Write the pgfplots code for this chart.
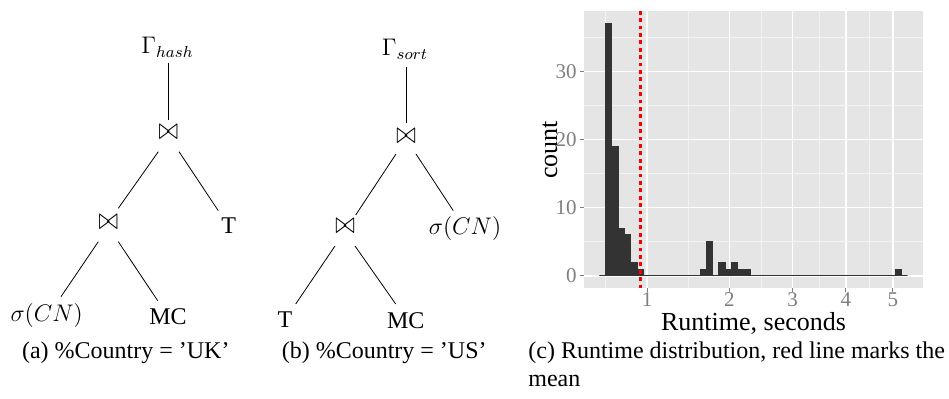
\documentclass[border=0pt]{standalone}
\usepackage{fontspec}
\setmainfont{Liberation Serif}
\usepackage{pgfplots}
\usepackage{pgfplotstable}
\pgfplotsset{compat=1.18}
\definecolor{panelbg}{HTML}{E5E5E5}
\definecolor{minorgrid}{HTML}{F2F2F2}
\definecolor{barcol}{HTML}{333333}
\definecolor{tickgrey}{HTML}{7F7F7F}

% histogram bins (x in sqrt(seconds), as on the square-root axis)
\pgfplotstableread{
edge count
0.76020 0
0.79184 37
0.82348 19
0.85512 7
0.88676 6
0.91840 2
0.95004 1
0.98168 0
1.01332 0
1.04496 0
1.07660 0
1.10824 0
1.13988 0
1.17152 0
1.20316 0
1.23480 0
1.26644 1
1.29808 5
1.32972 0
1.36136 2
1.39300 1
1.42464 2
1.45628 1
1.48792 1
1.51956 0
1.55120 0
1.58284 0
1.61448 0
1.64612 0
1.67776 0
1.70940 0
1.74104 0
1.77268 0
1.80432 0
1.83596 0
1.86760 0
1.89924 0
1.93088 0
1.96252 0
1.99416 0
2.02580 0
2.05744 0
2.08908 0
2.12072 0
2.15236 0
2.18400 0
2.21564 0
2.24728 1
2.27892 0
2.31056 0
}\histdata

\begin{document}
\begin{tikzpicture}
\useasboundingbox (0,0) rectangle (474.5pt,-199.5pt);

\begin{scope}[x=0.5pt,y=-0.5pt,every node/.style={inner sep=0pt},font=\fontsize{12}{14}\selectfont,
  bowtienode/.style={yscale=1.3}]
% tree (a)
\node[anchor=base] at (167.5,54) {$\Gamma_{hash}$};
\draw (168.5,63.3) -- (168.5,120);
\node[bowtienode] at (168.3,132.7) {$\bowtie$};
\draw (158.3,151.7) -- (118.3,208.3);
\draw (179,151.7) -- (218.3,210.7);
\node[bowtienode] at (108.3,222.7) {$\bowtie$};
\node[anchor=base] at (228.8,234) {T};
\draw (98.3,241.7) -- (61,296.7);
\draw (118.3,241.7) -- (157.7,300.7);
\node[anchor=base] at (46.7,321.7) {$\sigma(CN)$};
\node[anchor=base] at (168,325) {MC};
\node[anchor=base] at (125.8,359) {(a) $\%$Country = ’UK’};
% tree (b)
\node[anchor=base] at (405,56) {$\Gamma_{sort}$};
\draw (406,66.7) -- (406,123.3);
\node[bowtienode] at (406,136.3) {$\bowtie$};
\draw (396,154) -- (355.7,215);
\draw (416,154) -- (453.3,210.7);
\node[bowtienode] at (345,226.7) {$\bowtie$};
\node[anchor=base] at (465,235) {$\sigma(CN)$};
\draw (335,246) -- (295.7,304);
\draw (355,246) -- (395.7,304);
\node[anchor=base] at (285,327.3) {T};
\node[anchor=base] at (405.8,328.3) {MC};
\node[anchor=base] at (384.2,359) {(b) $\%$Country = ’US’};
% caption (c)
\node[anchor=base west] at (528,359) {(c) Runtime distribution, red line marks the};
\node[anchor=base west] at (528,386.7) {mean};
\end{scope}

\begin{axis}[
  at={(292pt,-144.25pt)}, anchor=south west,
  width=169.5pt, height=138.75pt, scale only axis,
  xmin=0.6827, xmax=2.388, ymin=-1.85, ymax=38.85,
  axis background/.style={fill=panelbg},
  axis line style={draw=none},
  xtick={1,1.41421,1.73205,2,2.23607},
  xticklabels={1,2,3,4,5},
  minor xtick={0.79289,1.20711,1.57313,1.86603,2.11803},
  ytick={0,10,20,30},
  minor ytick={5,15,25,35},
  grid=both,
  major grid style={white, line width=0.7pt},
  minor grid style={minorgrid, line width=0.45pt},
  tick align=outside,
  xtick pos=left, ytick pos=left,
  major tick length=2pt, minor tick length=0pt,
  tick style={tickgrey, line width=0.5pt},
  ticklabel style={font=\fontsize{10.5}{10.5}\selectfont, text=tickgrey},
  /pgf/number format/assume math mode=true,
  xticklabel style={anchor=north, inner sep=0pt, yshift=0pt},
  yticklabel style={anchor=east, inner sep=0pt, xshift=-1.5pt},
  xlabel={Runtime, seconds}, ylabel={count},
  label style={font=\fontsize{13}{13}\selectfont, inner sep=0pt},
  xlabel style={at={(axis description cs:0.5,-0.152)}, anchor=base},
  ylabel style={at={(axis description cs:-0.0796,0.5)}, anchor=base},
]
\addplot[ybar interval, fill=barcol, draw=barcol, line width=0.5pt] table[x=edge, y=count] {\histdata};
\addplot[red, line width=1.3pt, dash pattern=on 1.9pt off 1.8pt] coordinates {(0.9666,-1.85) (0.9666,38.85)};
\end{axis}
\end{tikzpicture}
\end{document}
